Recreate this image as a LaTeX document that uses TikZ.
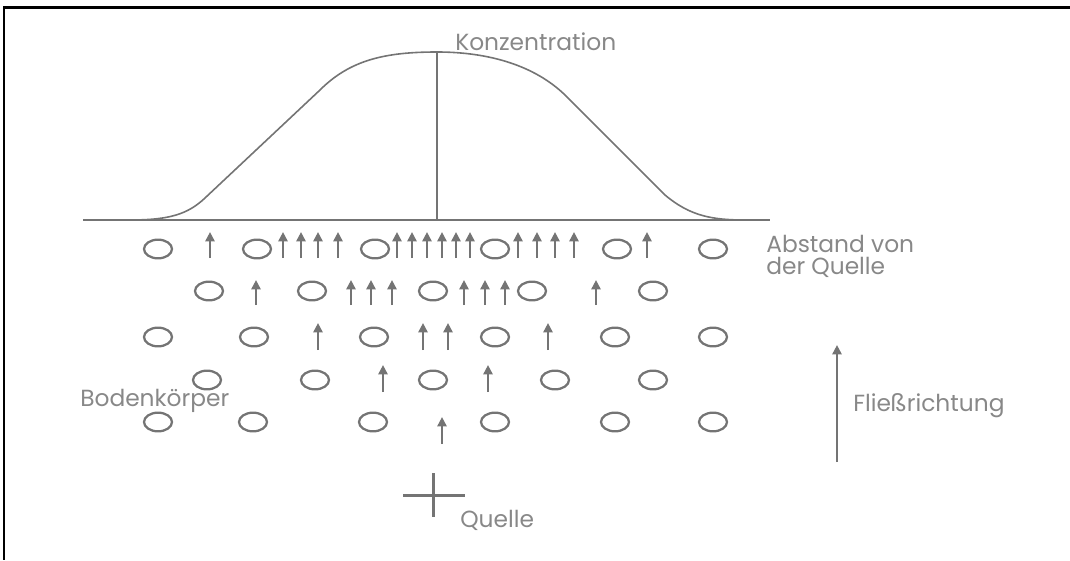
\documentclass[tikz,border=0pt]{standalone}
\usepackage{fontspec}
\setmainfont{Poppins}
\usetikzlibrary{arrows.meta,shapes.geometric}
\definecolor{ink}{HTML}{747474}
\definecolor{txt}{HTML}{888888}
\tikzset{
  px/.style={x=0.75pt,y=-0.75pt},
  circ/.style={ellipse,draw=ink,line width=1.7pt,minimum width=21pt,minimum height=14pt,inner sep=0pt},
  flow/.style={draw=ink,line width=1.7pt,-{Triangle[length=7pt,width=6.8pt]}},
  curve/.style={draw=ink,line width=1.2pt},
  lbl/.style={text=txt,font=\fontsize{17.5pt}{16.5pt}\selectfont,inner sep=0pt}
}
\begin{document}
\begin{tikzpicture}[px]
\useasboundingbox (0,0) rectangle (1070,560);
% frame
\draw[line width=2.25pt,black] (3,8) -- (1070,8);
\draw[line width=1.6pt,black] (4,8) -- (4,560);
% concentration curve
\draw[curve] (83,220) -- (770,220);
\draw[curve] (130,220) .. controls (170,220) and (188,214) .. (205,198)
  -- (320,90) .. controls (350,60) and (385,52) .. (437,52)
  .. controls (490,52) and (535,66) .. (565,95)
  -- (665,195) .. controls (690,216) and (712,220) .. (745,220);
\draw[curve] (437,52) -- (437,220);
\node[lbl,anchor=base west] (konz) at (455,51) {Konzentration};
% circles
\foreach \x [count=\i] in {158,257,375,495,617,713} \node[circ] (a\i) at (\x,249) {};
\foreach \x [count=\i] in {209,312,433,532,653} \node[circ] (b\i) at (\x,291) {};
\foreach \x [count=\i] in {158,254,374,495,615,713} \node[circ] (c\i) at (\x,337) {};
\foreach \x [count=\i] in {207,315,433,555,653} \node[circ] (d\i) at (\x,380) {};
\foreach \x [count=\i] in {158,253,373,495,615,713} \node[circ] (e\i) at (\x,422) {};
% arrows
\foreach \x in {210,283,301,318,338,397,412,427,442,456,470,518,537,555,574,647}
  \draw[flow] (\x,258) -- (\x,232);
\foreach \x in {256,351,371,392,464,485,505,596}
  \draw[flow] (\x,305) -- (\x,280);
\foreach \x in {318,423,448,548}
  \draw[flow] (\x,350) -- (\x,323);
\foreach \x in {383,488}
  \draw[flow] (\x,392) -- (\x,365);
\draw[flow] (442,444) -- (442,417);
% labels
\node[lbl,anchor=north west,align=left] (abst) at (766,235) {Abstand von\\der Quelle};
\node[lbl,anchor=base west] (boden) at (80,406) {Bodenkörper};
\coordinate (fa) at (837,462);
\coordinate (fb) at (837,345);
\draw[flow] (fa) -- (fb);
\node[lbl,anchor=base west] (fliess) at (853,411) {Fließrichtung};
% source
\coordinate (q1) at (433,473);
\coordinate (q2) at (433,517);
\coordinate (q3) at (403,495);
\coordinate (q4) at (465,495);
\draw[draw=ink,line width=2.25pt] (q1) -- (q2) (q3) -- (q4);
\node[lbl,anchor=base west] (quelle) at (460,527) {Quelle};
\end{tikzpicture}
\end{document}
